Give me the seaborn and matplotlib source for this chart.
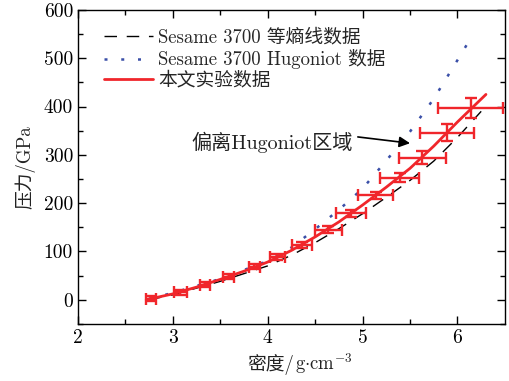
import numpy as np
import pandas as pd
import seaborn as sns
from matplotlib import pyplot as plt
from matplotlib.offsetbox import TextArea, HPacker, AnchoredOffsetbox

# data
# Sesame 3700 isentrope (black dashed)
isen_rho = [2.75, 3.0, 3.5, 4.0, 4.25, 4.5, 4.75, 5.0, 5.25, 5.5, 5.75, 6.0, 6.25]
isen_p = [0, 10, 38, 70, 92, 118, 147, 178, 212, 247, 287, 336, 390]
# Sesame 3700 Hugoniot (blue dotted)
hug_rho = [2.75, 3.0, 3.5, 4.0, 4.25, 4.5, 4.75, 5.0, 5.25, 5.5, 5.75, 6.0, 6.16]
hug_p = [2, 14, 43, 80, 108, 146, 186, 230, 288, 348, 416, 496, 548]
# experiment curve (red)
exp_rho = [2.72, 3.0, 3.25, 3.5, 3.75, 4.0, 4.25, 4.5, 4.75, 5.0, 5.25, 5.5, 5.75, 6.0, 6.3]
exp_p = [0, 12, 26, 42, 59, 78, 102, 130, 161, 196, 233, 272, 318, 368, 425]
# experiment points with error bars
pt_rho = [2.77, 3.08, 3.34, 3.59, 3.86, 4.10, 4.36, 4.64, 4.88, 5.14, 5.39, 5.63, 5.89, 6.14]
pt_p = [2, 15, 31, 48, 68, 88, 114, 145, 179, 216, 253, 294, 346, 397]
pt_xerr = [0.05, 0.07, 0.05, 0.06, 0.06, 0.08, 0.105, 0.14, 0.155, 0.185, 0.205, 0.245, 0.285, 0.34]
pt_yerr = [5, 5, 5, 5, 5, 6, 6, 7, 7, 8, 10, 14, 18, 20]

sns.set_style('ticks')
plt.rcParams['font.family'] = ['cmr10', 'Noto Sans CJK SC', 'DejaVu Serif']
plt.rcParams['mathtext.fontset'] = 'cm'
plt.rcParams['axes.unicode_minus'] = False

fig = plt.figure(figsize=(5.09, 3.81), dpi=100)
ax = fig.add_axes([0.153, 0.150, 0.839, 0.824])

red = '#f0262b'
fs = 13.5
sns.lineplot(x=isen_rho, y=isen_p, ax=ax, color='black', linewidth=1.0,
             linestyle=(0, (9, 7)), label='Sesame 3700 等熵线数据')
sns.lineplot(x=hug_rho, y=hug_p, ax=ax, color='#3a4fa8', linewidth=1.8,
             linestyle=(0, (1.2, 5.5)), label='Sesame 3700 Hugoniot 数据')
sns.lineplot(x=exp_rho, y=exp_p, ax=ax, color=red, linewidth=2.0,
             label='本文实验数据')
ax.errorbar(pt_rho, pt_p, xerr=pt_xerr, yerr=pt_yerr, fmt='none',
            ecolor=red, elinewidth=1.7, capsize=4, capthick=1.7)

ax.text(3.2, 325, '偏离Hugoniot区域', fontsize=14.5, color='#222222', va='center')
ax.annotate('', xy=(5.50, 324), xytext=(4.95, 337),
            arrowprops=dict(arrowstyle='-|>', color='black', lw=1.2,
                            mutation_scale=16, shrinkA=0, shrinkB=0))

ax.set_xlim(2, 6.5)
ax.set_ylim(-50, 600)
ax.set_xticks([2, 3, 4, 5, 6])
ax.set_xticks([2.5, 3.5, 4.5, 5.5], minor=True)
ax.set_yticks([0, 100, 200, 300, 400, 500, 600])
ax.set_yticks([-50, 50, 150, 250, 350, 450, 550], minor=True)
ax.tick_params(which='both', direction='in', top=True, right=True,
               labelsize=14, width=1.0, colors='black')
ax.tick_params(which='major', length=6)
ax.tick_params(which='minor', length=3.5)
for s in ax.spines.values():
    s.set_linewidth(1.0)
    s.set_color('black')

# x label: CJK part plus a mathtext unit
part1 = TextArea('密度/', textprops=dict(fontsize=fs, color='#222222'))
part2 = TextArea(r'$\mathrm{g{\cdot}cm}^{-3}$', textprops=dict(fontsize=fs, color='#222222'))
box = HPacker(children=[part1, part2], align='baseline', pad=0, sep=0)
anch = AnchoredOffsetbox(loc='upper center', child=box, pad=0, borderpad=0,
                         bbox_to_anchor=(0.52, -0.085), bbox_transform=ax.transAxes,
                         frameon=False)
ax.add_artist(anch)
ax.set_xlabel('')
ax.set_ylabel('压力/GPa', fontsize=fs, color='#222222', labelpad=6)

leg = ax.legend(loc='upper left', frameon=False, fontsize=fs,
                handlelength=2.6, handletextpad=0.3, borderaxespad=0.2,
                labelspacing=0.12, bbox_to_anchor=(0.035, 0.975))

fig.savefig('out.png', dpi=100)
